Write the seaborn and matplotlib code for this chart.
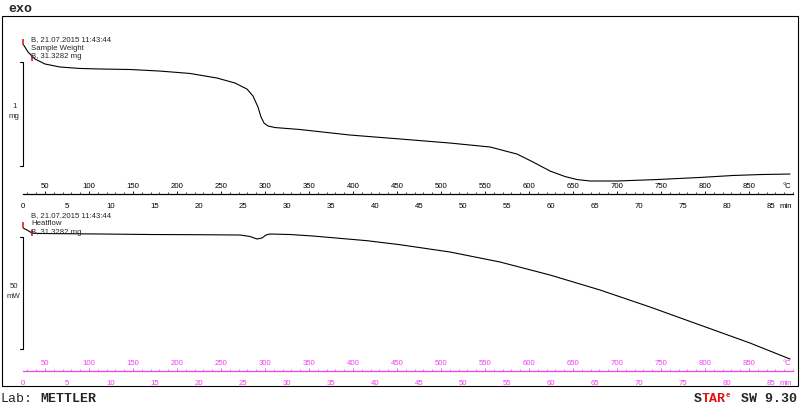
import matplotlib
matplotlib.use("Agg")
import matplotlib.pyplot as plt
import numpy as np
import pandas as pd
import seaborn as sns
from matplotlib.patches import Rectangle
from matplotlib.ticker import FixedLocator, MultipleLocator

# Sample weight (TG) curve: time in min, mass in mg
tg_time = [0, 0.57, 1.36, 2.5, 4.2, 6.48, 8.75, 12.16, 15.57, 18.98, 22.05, 24.09,
           25.45, 26.14, 26.7, 27.05, 27.39, 27.84, 28.64, 31.48, 37.16, 42.84,
           48.52, 53.07, 56.14, 57.95, 59.89, 61.59, 62.95, 64.43, 67.5, 72.05,
           76.93, 80.68, 83.75, 87.16]
tg_mass = [31.328, 31.251, 31.184, 31.136, 31.107, 31.093, 31.088, 31.083, 31.068,
           31.045, 31.001, 30.953, 30.895, 30.828, 30.722, 30.626, 30.568, 30.540,
           30.525, 30.506, 30.453, 30.415, 30.376, 30.338, 30.270, 30.194, 30.107,
           30.054, 30.025, 30.011, 30.011, 30.025, 30.045, 30.064, 30.073, 30.078]

# Heatflow (DSC) curve: time in min, heat flow in mW (exo up)
dsc_time = [0, 0.45, 1.02, 1.93, 8.75, 14.43, 20.11, 24.66, 25.8, 26.59, 27.16,
            27.61, 28.07, 30.34, 32.95, 39.09, 42.84, 48.52, 54.2, 59.89, 65.57,
            71.25, 76.93, 82.61, 84.89, 87.16]
dsc_flow = [3.13, 2.23, 0.89, 0.67, 0.45, 0.22, 0.13, 0.0, -0.67, -1.79, -1.34,
            0.0, 0.45, 0.22, -0.45, -2.54, -4.33, -7.59, -12.05, -17.86, -24.55,
            -32.14, -40.18, -48.21, -51.79, -55.36]

time_ticks = [0, 5, 10, 15, 20, 25, 30, 35, 40, 45, 50, 55, 60, 65, 70, 75, 80, 85]
temp_ticks = [50, 100, 150, 200, 250, 300, 350, 400, 450, 500, 550, 600, 650, 700,
              750, 800, 850]

T_START = 25.0   # deg C
RATE = 10.0      # K/min
T_END = 87.5     # min
SAMPLE = "B, 31.3282 mg"
STAMP = "B, 21.07.2015 11:43:44"

W, H = 800, 406
PINK = "#f040f0"
SMALL = 5.6

sns.set_style("white")
plt.rcParams["font.family"] = ["Liberation Sans", "DejaVu Sans"]


def fx(x):
    return x / W


def fy(y):
    return 1 - y / H


def box(x0, y0, x1, y1):
    return [fx(x0), fy(y1), (x1 - x0) / W, (y1 - y0) / H]


def ruler(ax, color):
    for s in ["top", "right", "left"]:
        ax.spines[s].set_visible(False)
    ax.spines["bottom"].set_color(color)
    ax.spines["bottom"].set_linewidth(0.8)
    ax.set_yticks([])
    ax.set_xlim(0, T_END)
    ax.set_xlabel("")
    ax.set_ylabel("")
    ax.xaxis.set_major_locator(FixedLocator(time_ticks))
    ax.xaxis.set_minor_locator(MultipleLocator(1))
    ax.tick_params(axis="x", which="major", direction="out", length=2.4, width=0.6,
                   color=color, labelcolor=color, labelsize=SMALL, pad=3.6)
    ax.tick_params(axis="x", which="minor", direction="out", length=1.3, width=0.5,
                   color=color)
    sec = ax.secondary_xaxis(0, functions=(lambda t: T_START + RATE * t,
                                           lambda T: (T - T_START) / RATE))
    sec.set_alignment("top")
    sec.set_xticks(temp_ticks)
    sec.xaxis.set_minor_locator(MultipleLocator(10))
    sec.spines["top"].set_color(color)
    sec.spines["top"].set_linewidth(0.8)
    sec.tick_params(axis="x", which="major", direction="out", length=2.4, width=0.6,
                    color=color, labelcolor=color, labelsize=SMALL, pad=1.0)
    sec.tick_params(axis="x", which="minor", direction="out", length=1.3, width=0.5,
                    color=color)
    ax.annotate("°C", xy=(1, 0), xycoords="axes fraction", xytext=(-1, 5.8),
                textcoords="offset points", ha="right", va="center",
                fontsize=SMALL, color=color)
    ax.annotate("min", xy=(1, 0), xycoords="axes fraction", xytext=(-1, -8.6),
                textcoords="offset points", ha="right", va="center",
                fontsize=SMALL, color=color)


def scale_bar(ax, top, size):
    ax.plot([-0.35, 0, 0, -0.35], [top, top, top - size, top - size],
            color="black", lw=0.8, clip_on=False)


fig = plt.figure(figsize=(W / 100, H / 100), dpi=100)

# --- upper panel: sample weight ---
ax1 = fig.add_axes(box(23, 20, 793, 195))
ax1.patch.set_alpha(0)
tg = pd.DataFrame({"time": tg_time, "mass": tg_mass})
sns.lineplot(data=tg, x="time", y="mass", ax=ax1, color="black", lw=0.8)
ax1.set_ylim(29.886, 31.5686)
ruler(ax1, "black")
scale_bar(ax1, 31.155, 1.0)
ax1.plot([tg_time[0], 1.02], [tg_mass[0] + 0.02, 31.19], ls="none", marker="|",
         ms=5, mew=1.2, color="#e02020", clip_on=False)

# --- lower panel: heatflow ---
ax2 = fig.add_axes(box(23, 215, 793, 372))
ax2.patch.set_alpha(0)
dsc = pd.DataFrame({"time": dsc_time, "flow": dsc_flow})
sns.lineplot(data=dsc, x="time", y="flow", ax=ax2, color="black", lw=0.8)
ax2.set_ylim(-60.71, 9.375)
ruler(ax2, PINK)
scale_bar(ax2, -0.89, 50.0)
ax2.plot([dsc_time[0], 1.02], [dsc_flow[0] + 1.5, dsc_flow[2]], ls="none",
         marker="|", ms=5, mew=1.2, color="#e02020", clip_on=False)

# panel annotations
for y0, name in [(40, "Sample Weight"), (216, "Heatflow")]:
    fig.text(fx(31), fy(y0), STAMP, fontsize=SMALL, va="center")
    fig.text(fx(31), fy(y0 + 8), name, fontsize=SMALL, va="center")
    fig.text(fx(31), fy(y0 + 16.5), SAMPLE, fontsize=SMALL, va="center")
fig.text(fx(15), fy(106), "1", fontsize=SMALL, ha="center", va="center")
fig.text(fx(14), fy(116), "mg", fontsize=SMALL, ha="center", va="center")
fig.text(fx(14), fy(286), "50", fontsize=SMALL, ha="center", va="center")
fig.text(fx(13), fy(297), "mW", fontsize=SMALL, ha="center", va="center")

# outer frame
fig.add_artist(Rectangle((fx(1.5), fy(387)), (796 / W), (370 / H),
                         transform=fig.transFigure, fill=False, lw=0.8,
                         ec="black"))

# header / footer
mono = "Liberation Mono"
fig.text(fx(2), fy(3), "‾", fontsize=6, family="DejaVu Sans", va="center")
fig.text(fx(8), fy(9), "exo", fontsize=9.5, family=mono, weight="bold",
         va="center")
fig.text(fx(0), fy(399), "Lab:", fontsize=9.5, family=mono, va="center")
fig.text(fx(40), fy(399), "METTLER", fontsize=9.5, family=mono,
         weight="bold", va="center")
fig.text(fx(694), fy(399), "S", fontsize=9.5, family=mono, weight="bold",
         va="center")
fig.text(fx(702), fy(399), "TAR", fontsize=9.5, family=mono, weight="bold",
         va="center", color="#e01010")
fig.text(fx(726), fy(396), "e", fontsize=5.5, family=mono, weight="bold",
         va="center", color="#e01010")
fig.text(fx(797), fy(399), "SW 9.30", fontsize=9.5, family=mono,
         weight="bold", ha="right", va="center")

fig.savefig("out.png", dpi=100)
